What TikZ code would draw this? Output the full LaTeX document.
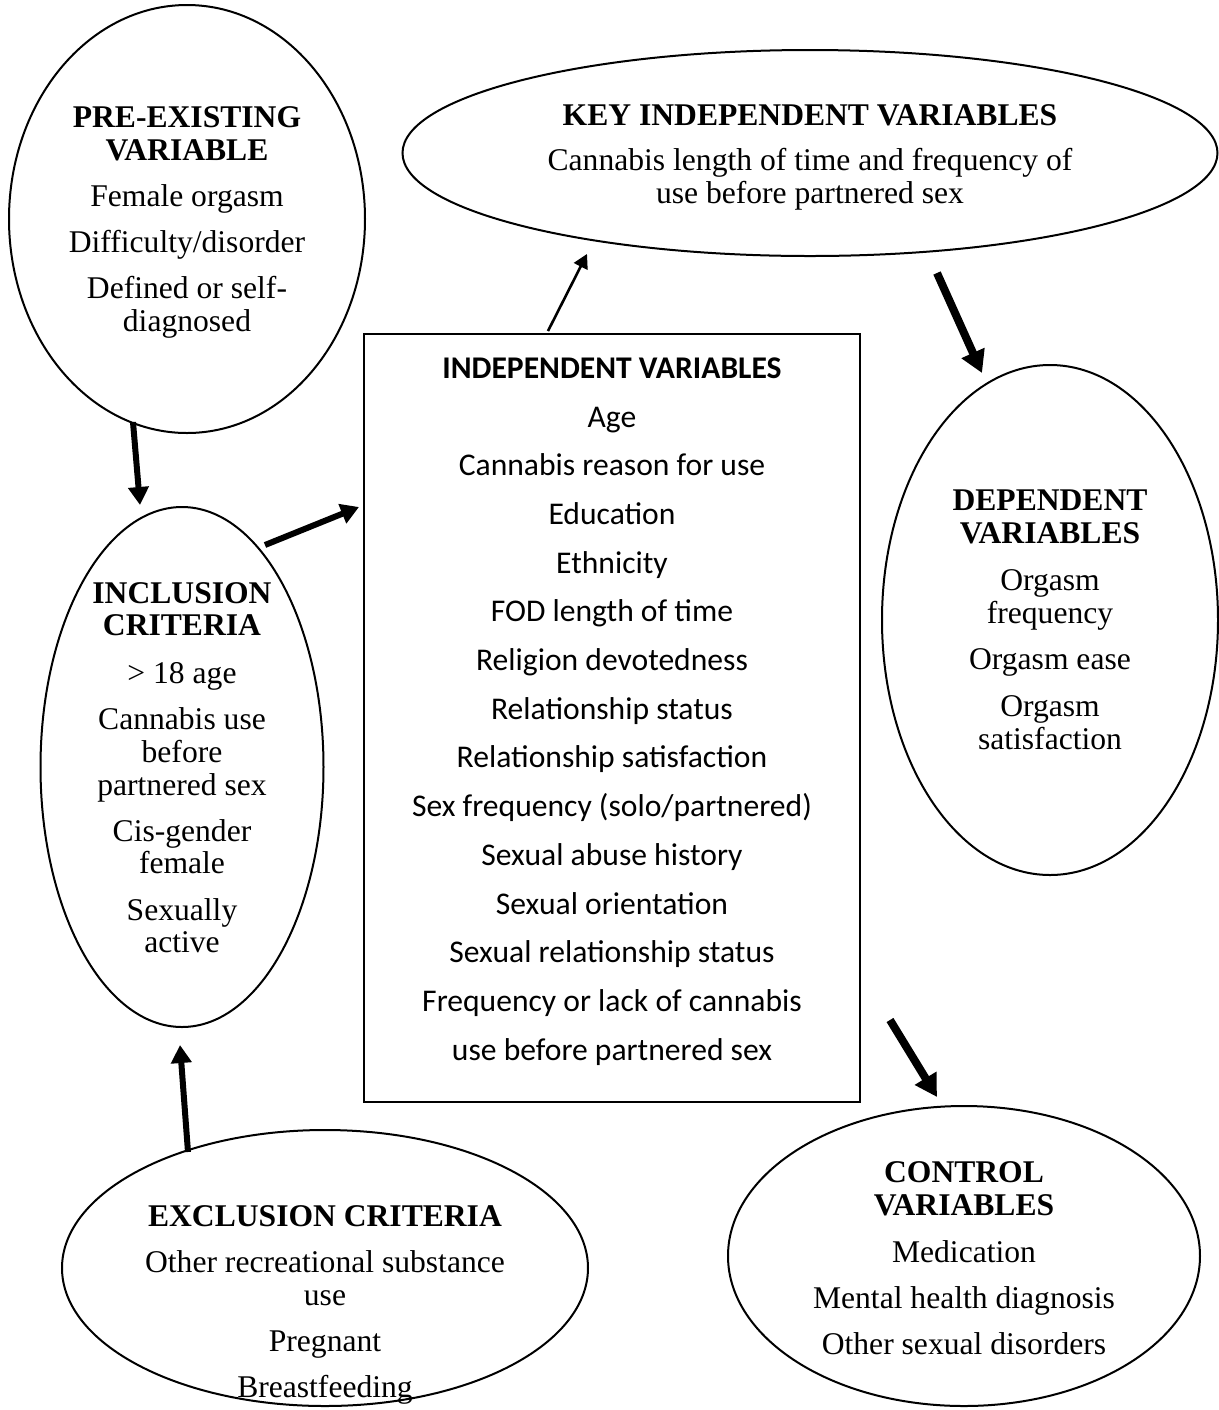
\documentclass[tikz,border=0pt]{standalone}
\usepackage{fontspec}
\setmainfont{Liberation Serif}
\newfontfamily\calibri{Carlito}
\usetikzlibrary{shapes.geometric,arrows.meta}
\tikzset{
  ell/.style={ellipse, draw, line width=1pt, inner sep=0pt},
  tx/.style={anchor=base, inner sep=0pt, font=\fontsize{15.8}{19}\selectfont},
  hd/.style={anchor=base, inner sep=0pt, font=\fontsize{15.8}{19}\selectfont\bfseries},
  bx/.style={anchor=base, inner sep=0pt, font=\calibri\fontsize{15.8}{19}\selectfont},
  bxh/.style={anchor=base, inner sep=0pt, font=\calibri\fontsize{15.8}{19}\selectfont\bfseries},
  arr/.style={line width=3pt, -{Triangle[length=9pt,width=10pt]}},
  bigarr/.style={line width=4pt, -{Triangle[length=11pt,width=12pt]}},
  thinarr/.style={line width=1.3pt, -{Triangle[length=7pt,width=7.5pt]}}
}
\begin{document}
\begin{tikzpicture}[x=0.5pt,y=-0.5pt]
\useasboundingbox (0,0) rectangle (1219,1410);

% shapes (sizes in pt: half of pixel sizes)
\node[ell, minimum width=178pt, minimum height=214pt] (pre) at (187,219) {};
\node[ell, minimum width=407.5pt, minimum height=103pt] (key) at (810,153) {};
\node[ell, minimum width=141.5pt, minimum height=260pt] (inc) at (182,767) {};
\node[ell, minimum width=168pt, minimum height=255pt] (dep) at (1050,620) {};
\node[ell, minimum width=263pt, minimum height=138pt] (exc) at (325,1268) {};
\node[ell, minimum width=236pt, minimum height=150pt] (ctl) at (964,1256) {};
\node[draw, line width=1pt, inner sep=0pt, minimum width=248pt, minimum height=384pt] (box) at (612,718) {};

% pre-existing
\node[hd] (p1) at (187,127) {PRE-EXISTING};
\node[hd] (p2) at (187,160) {VARIABLE};
\node[tx] (p3) at (187,206) {Female orgasm};
\node[tx] (p4) at (187,252) {Difficulty/disorder};
\node[tx] (p5) at (187,298) {Defined or self-};
\node[tx] (p6) at (187,331) {diagnosed};

% key independent
\node[hd] (k1) at (810,125) {KEY INDEPENDENT VARIABLES};
\node[tx] (k2) at (810,170) {Cannabis length of time and frequency of};
\node[tx] (k3) at (810,203) {use before partnered sex};

% independent variables box
\node[bxh] (b1) at (612,378) {INDEPENDENT VARIABLES};
\node[bx] (b2) at (612,427) {Age};
\node[bx] (b3) at (612,475.7) {Cannabis reason for use};
\node[bx] (b4) at (612,524.4) {Education};
\node[bx] (b5) at (612,573.1) {Ethnicity};
\node[bx] (b6) at (612,621.8) {FOD length of time};
\node[bx] (b7) at (612,670.5) {Religion devotedness};
\node[bx] (b8) at (612,719.2) {Relationship status};
\node[bx] (b9) at (612,767.9) {Relationship satisfaction};
\node[bx] (b10) at (612,816.6) {Sex frequency (solo/partnered)};
\node[bx] (b11) at (612,865.3) {Sexual abuse history};
\node[bx] (b12) at (612,914) {Sexual orientation};
\node[bx] (b13) at (612,962.7) {Sexual relationship status};
\node[bx] (b14) at (612,1011.4) {Frequency or lack of cannabis};
\node[bx] (b15) at (612,1060.1) {use before partnered sex};

% inclusion
\node[hd] (i1) at (182,603) {INCLUSION};
\node[hd] (i2) at (182,635) {CRITERIA};
\node[tx] (i3) at (182,683) {> 18 age};
\node[tx] (i4) at (182,729) {Cannabis use};
\node[tx] (i5) at (182,762) {before};
\node[tx] (i6) at (182,795) {partnered sex};
\node[tx] (i7) at (182,841) {Cis-gender};
\node[tx] (i8) at (182,873) {female};
\node[tx] (i9) at (182,920) {Sexually};
\node[tx] (i10) at (182,952) {active};

% dependent
\node[hd] (d1) at (1050,510) {DEPENDENT};
\node[hd] (d2) at (1050,543) {VARIABLES};
\node[tx] (d3) at (1050,590) {Orgasm};
\node[tx] (d4) at (1050,623) {frequency};
\node[tx] (d5) at (1050,669) {Orgasm ease};
\node[tx] (d6) at (1050,716) {Orgasm};
\node[tx] (d7) at (1050,749) {satisfaction};

% exclusion
\node[hd] (e1) at (325,1226) {EXCLUSION CRITERIA};
\node[tx] (e2) at (325,1272) {Other recreational substance};
\node[tx] (e3) at (325,1305) {use};
\node[tx] (e4) at (325,1351) {Pregnant};
\node[tx] (e5) at (325,1397) {Breastfeeding};

% control
\node[hd] (c1) at (964,1182) {CONTROL};
\node[hd] (c2) at (964,1215) {VARIABLES};
\node[tx] (c3) at (964,1262) {Medication};
\node[tx] (c4) at (964,1308) {Mental health diagnosis};
\node[tx] (c5) at (964,1354) {Other sexual disorders};

% arrow end points
\coordinate (preout) at (133,422);
\coordinate (incin) at (140,505);
\coordinate (incout) at (265,545);
\coordinate (boxin) at (359,507);
\coordinate (boxup) at (548,331);
\coordinate (keyin) at (587,254);
\coordinate (keyout) at (937,273);
\coordinate (depin) at (982,373);
\coordinate (boxout) at (890,1020);
\coordinate (ctlin) at (937,1097);
\coordinate (excout) at (188,1152);
\coordinate (incbot) at (180,1045);

\draw[arr] (preout) -- (incin);
\draw[arr] (incout) -- (boxin);
\draw[thinarr] (boxup) -- (keyin);
\draw[bigarr] (keyout) -- (depin);
\draw[bigarr] (boxout) -- (ctlin);
\draw[arr] (excout) -- (incbot);
\end{tikzpicture}
\end{document}
